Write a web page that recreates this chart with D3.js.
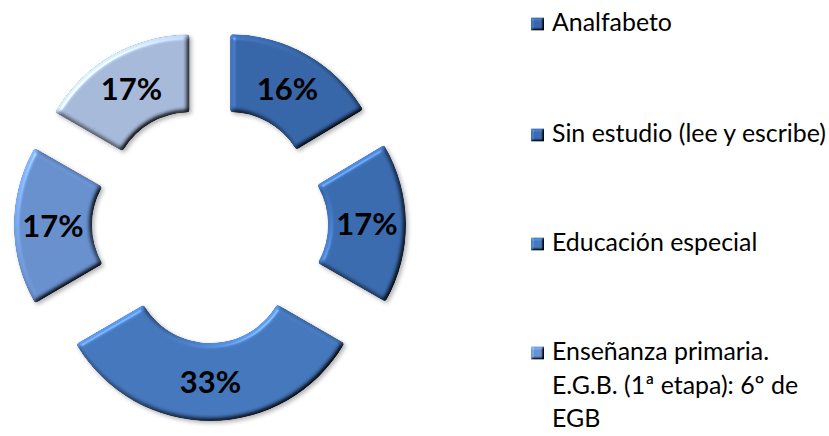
<!DOCTYPE html>
<html>
<head>
<meta charset="utf-8">
<script src="https://cdn.jsdelivr.net/npm/d3@7"></script>
<style>
  html, body { margin: 0; padding: 0; background: #fff; }
  svg { display: block; }
</style>
</head>
<body>
<svg id="chart" width="829" height="436"></svg>
<script>
// ---- data ----
const categories = [
  "Analfabeto",
  "Sin estudio (lee y escribe)",
  "Educación especial",
  "Enseñanza primaria. E.G.B. (1ª etapa): 6º de EGB",
  "Enseñanza primaria. E.G.B. (2ª etapa): 8º de EGB"
];
const values = [16.4, 16.9, 33.3, 16.7, 16.7];   // percent
const colors = ["#3766A8", "#3A6BAF", "#4577BC", "#6890CD", "#A7B9D9"];
// legend lines as they wrap in the reference (5th entry is cut off below the frame)
const legendLines = [
  ["Analfabeto"],
  ["Sin estudio (lee y escribe)"],
  ["Educación especial"],
  ["Enseñanza primaria.", "E.G.B. (1ª etapa): 6º de", "EGB"]
];

// ---- layout ----
const cx = 210, cy = 225, R = 155, r = 77, explode = 41;
const svg = d3.select("#chart");
const defs = svg.append("defs");

function bevelFilter(id, blur, scale, shadow) {
  const el = 50, k = 1 / Math.sin(el * Math.PI / 180);
  const f = defs.append("filter").attr("id", id)
    .attr("x", "-10%").attr("y", "-10%").attr("width", "125%").attr("height", "125%")
    .attr("color-interpolation-filters", "sRGB");
  f.append("feGaussianBlur").attr("in", "SourceAlpha").attr("stdDeviation", blur).attr("result", "blur");
  const dl = f.append("feDiffuseLighting").attr("in", "blur").attr("surfaceScale", scale)
    .attr("diffuseConstant", 1).attr("lighting-color", "#fff").attr("result", "diff");
  dl.append("feDistantLight").attr("azimuth", 225).attr("elevation", el);
  f.append("feComposite").attr("in", "SourceGraphic").attr("in2", "diff").attr("operator", "arithmetic")
    .attr("k1", k.toFixed(3)).attr("k2", 0).attr("k3", 0).attr("k4", 0).attr("result", "lit");
  const sl = f.append("feSpecularLighting").attr("in", "blur").attr("surfaceScale", scale)
    .attr("specularConstant", 0.35).attr("specularExponent", 60).attr("lighting-color", "#fff").attr("result", "spec");
  sl.append("feDistantLight").attr("azimuth", 225).attr("elevation", el);
  f.append("feComposite").attr("in", "spec").attr("in2", "SourceAlpha").attr("operator", "in").attr("result", "specIn");
  f.append("feComposite").attr("in", "lit").attr("in2", "specIn").attr("operator", "arithmetic")
    .attr("k1", 0).attr("k2", 1).attr("k3", 0.6).attr("k4", 0).attr("result", "bev");
  f.append("feComposite").attr("in", "bev").attr("in2", "SourceAlpha").attr("operator", "in").attr("result", "bevIn");
  if (shadow) {
    f.append("feGaussianBlur").attr("in", "SourceAlpha").attr("stdDeviation", 2).attr("result", "sh");
    f.append("feOffset").attr("in", "sh").attr("dx", 1.5).attr("dy", 2).attr("result", "sho");
    f.append("feFlood").attr("flood-color", "#000").attr("flood-opacity", 0.3).attr("result", "fl");
    f.append("feComposite").attr("in", "fl").attr("in2", "sho").attr("operator", "in").attr("result", "shadow");
  }
  const m = f.append("feMerge");
  if (shadow) m.append("feMergeNode").attr("in", "shadow");
  m.append("feMergeNode").attr("in", "bevIn");
}
bevelFilter("bevel", 2.6, 3.2, true);
bevelFilter("bevelSmall", 1.3, 2.5, false);

const pie = d3.pie().sort(null).value(d => d).startAngle(0).endAngle(2 * Math.PI);
const arcs = pie(values);
const arc = d3.arc().innerRadius(r).outerRadius(R).cornerRadius(2.5);
const color = d3.scaleOrdinal().domain(d3.range(values.length)).range(colors);

const g = svg.append("g").attr("transform", `translate(${cx},${cy})`);

const slice = g.selectAll("g.slice").data(arcs).join("g")
  .attr("class", "slice")
  .attr("transform", d => {
    const a = (d.startAngle + d.endAngle) / 2;
    return `translate(${explode * Math.sin(a)},${-explode * Math.cos(a)})`;
  });

slice.append("path")
  .attr("d", arc)
  .attr("fill", (d, i) => color(i))
  .attr("filter", "url(#bevel)");

// data labels
const labelFont = "Lato, 'Open Sans', sans-serif";
const lblSize = 31;
slice.append("text")
  .attr("transform", d => `translate(${arc.centroid(d)})`)
  .attr("text-anchor", "middle")
  .attr("dy", (0.36 * lblSize).toFixed(1))
  .attr("font-family", labelFont)
  .attr("font-weight", "bold")
  .attr("font-size", lblSize)
  .attr("fill", "#000")
  .text(d => Math.round(d.data) + "%");

// legend
const legend = svg.append("g").attr("class", "legend");
const legendFont = "Lato, 'Open Sans', sans-serif";
const baselines = [31, 142, 251, 360];
const lineH = 33.5;
const textX = 552, markX = 531, markS = 13;

const items = legend.selectAll("g.item").data(legendLines).join("g").attr("class", "item");
items.append("rect")
  .attr("x", markX).attr("y", (d, i) => baselines[i] - markS - 0.5)
  .attr("width", markS).attr("height", markS)
  .attr("fill", (d, i) => color(i))
  .attr("filter", "url(#bevelSmall)");
const texts = items.append("text")
  .attr("font-family", legendFont)
  .attr("font-size", 22)
  .attr("fill", "#000");
texts.selectAll("tspan").data((d, i) => d.map((t, j) => ({ t, y: baselines[i] + j * lineH })))
  .join("tspan").attr("x", textX).attr("y", d => d.y).text(d => d.t);
// fit legend font: "Sin estudio (lee y escribe)" spans ~274px in the reference
const w = texts.filter((d, i) => i === 1).node().getComputedTextLength();
texts.attr("font-size", 22 * 274 / w);
</script>
</body>
</html>
